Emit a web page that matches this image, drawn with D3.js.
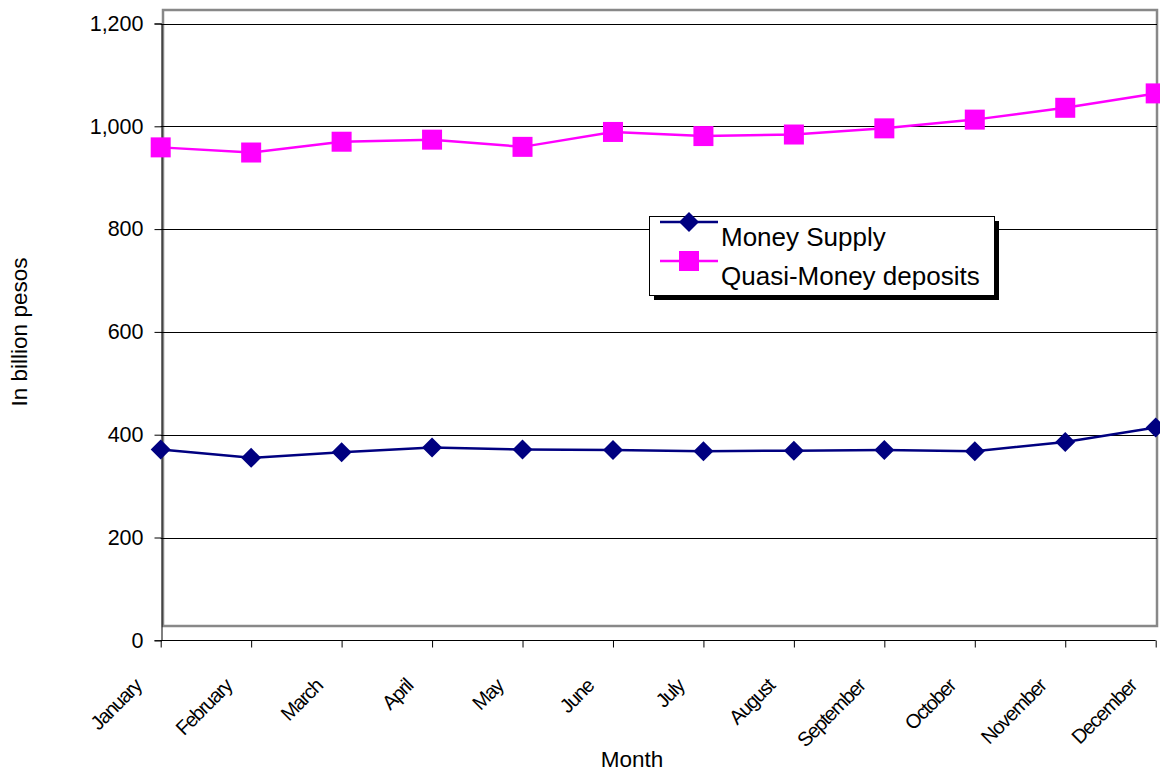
<!DOCTYPE html>
<html><head><meta charset="utf-8">
<script src="https://cdn.jsdelivr.net/npm/d3@7"></script>
<style>body{margin:0;background:#fff}svg{display:block;font-family:"Liberation Sans",Arial,sans-serif}</style>
</head><body><svg id="c" width="1160" height="774"></svg>
<script>
const months = ["January","February","March","April","May","June","July","August","September","October","November","December"];
const moneySupply = [371,355,366,375,371,370,368,369,370,368,386,414];
const quasiMoney = [959,949,970,974,960,989,981,984,996,1013,1036,1064];
const yTicks = [0,200,400,600,800,1000,1200];
const seriesNames = ["Money Supply","Quasi-Money deposits"];

const svg = d3.select("#c");
const L = 160.7, R = 1155.7, T = 23.5, B = 640.3;
const x = d3.scalePoint().domain(months).range([L, R]);
const y = d3.scaleLinear().domain([0,1200]).range([B, T]);

// plot area border (gray)
svg.append("rect").attr("x",163).attr("y",10).attr("width",994).attr("height",616)
  .attr("fill","none").attr("stroke","#888").attr("stroke-width",2.5);

// gridlines
svg.append("g").selectAll("line").data(yTicks.filter(d=>d>0)).join("line")
  .attr("x1",L).attr("x2",1157).attr("y1",d=>Math.round(y(d))+0.5).attr("y2",d=>Math.round(y(d))+0.5)
  .attr("stroke","#000").attr("stroke-width",1);

// y axis
const yAxis = d3.axisLeft(y).tickValues(yTicks).tickSize(7).tickPadding(11).tickFormat(d3.format(","));
const gy = svg.append("g").attr("transform",`translate(${Math.round(L)+0.5},0)`).call(yAxis);
gy.select(".domain").attr("stroke","#000");
gy.selectAll(".tick line").attr("stroke","#000");
gy.selectAll("text").attr("font-size",21.5).attr("fill","#000").attr("font-family","Liberation Sans, Arial, sans-serif");

// x axis
const xAxis = d3.axisBottom(x).tickSize(7).tickFormat("");
const gx = svg.append("g").attr("transform",`translate(0,${Math.round(B)+0.5})`).call(xAxis);
gx.select(".domain").attr("stroke","#000").attr("d",`M${L},0H${R}`);
gx.selectAll(".tick line").attr("stroke","#000");
svg.append("g").selectAll("text").data(months).join("text")
  .attr("transform",d=>`translate(${x(d)-18},${B+47}) rotate(-45)`)
  .attr("text-anchor","end").attr("font-size",20).attr("letter-spacing",-1.3)
  .attr("fill","#000").text(d=>d);

// axis titles
svg.append("text").attr("x",632).attr("y",767).attr("text-anchor","middle").attr("font-size",22.5).text("Month");
svg.append("text").attr("transform","translate(27,332) rotate(-90)").attr("text-anchor","middle").attr("font-size",22.5).text("In billion pesos");

// lines
const line = d3.line().x((d,i)=>x(months[i])).y(d=>y(d));
const colors = ["#000080","#FF00FF"];
svg.append("path").datum(moneySupply).attr("d",line).attr("fill","none").attr("stroke",colors[0]).attr("stroke-width",2.5);
svg.append("path").datum(quasiMoney).attr("d",line).attr("fill","none").attr("stroke",colors[1]).attr("stroke-width",2.5);

const diamond = s => `M0,${-s}L${s},0L0,${s}L${-s},0Z`;
svg.append("g").selectAll("path").data(moneySupply).join("path")
  .attr("transform",(d,i)=>`translate(${x(months[i])},${y(d)})`).attr("d",diamond(10)).attr("fill",colors[0]);
svg.append("g").selectAll("rect").data(quasiMoney).join("rect")
  .attr("x",(d,i)=>x(months[i])-10).attr("y",d=>y(d)-10).attr("width",20).attr("height",20).attr("fill",colors[1]);

// legend
const lg = svg.append("g");
lg.append("rect").attr("x",654).attr("y",221).attr("width",345).attr("height",79).attr("fill","#000");
lg.append("rect").attr("x",649.5).attr("y",216.5).attr("width",345).attr("height",79).attr("fill","#fff").attr("stroke","#000").attr("stroke-width",1);
const ly = [222, 261];
seriesNames.forEach((n,i)=>{
  lg.append("line").attr("x1",660).attr("x2",718).attr("y1",ly[i]).attr("y2",ly[i]).attr("stroke",colors[i]).attr("stroke-width",2.5);
  if(i===0) lg.append("path").attr("transform",`translate(689,${ly[i]})`).attr("d",diamond(10)).attr("fill",colors[i]);
  else lg.append("rect").attr("x",679).attr("y",ly[i]-10).attr("width",20).attr("height",20).attr("fill",colors[i]);
  lg.append("text").attr("x",721).attr("y",ly[i]+24).attr("font-size",26).attr("fill","#000").text(n);
});
</script></body></html>
